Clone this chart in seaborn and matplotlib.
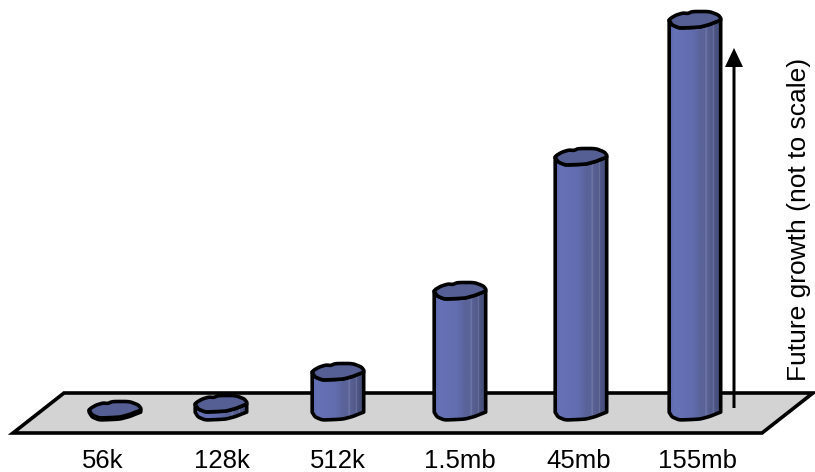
import numpy as np
import pandas as pd
import matplotlib
matplotlib.use("Agg")
import matplotlib.pyplot as plt
from matplotlib.colors import LinearSegmentedColormap
from matplotlib.patches import Polygon, FancyArrow
import seaborn as sns

# Line speeds and their (schematic) column heights
categories = ["56k", "128k", "512k", "1.5mb", "45mb", "155mb"]
column_centers = [115, 221, 338, 460, 581, 695]
label_centers = [103, 222, 338, 460, 579, 698]
heights = [2, 8, 40, 121, 255, 392]
axis_caption = "Future growth (not to scale)"

sns.set_theme(style="white")
plt.rcParams["font.family"] = ["Liberation Sans", "DejaVu Sans"]

fig = plt.figure(figsize=(8.15, 4.72), dpi=100)
ax = fig.add_axes([0, 0, 1, 1])

df = pd.DataFrame({"center": column_centers, "height": heights})
sns.barplot(data=df, x="center", y="height", native_scale=True, width=52 / 106,
            color="#5f6aa6", saturation=1, ax=ax, zorder=3)

ax.set_xlim(0, 815)
ax.set_ylim(-60, 412)
ax.set_axis_off()

LINE = 2.6

# Floor slab the columns stand on
ax.add_patch(Polygon([(13, -21), (64, 19), (813, 19), (762, -21)], closed=True,
                     facecolor="#d3d3d3", edgecolor="black", linewidth=LINE,
                     joinstyle="miter", zorder=1))

# Hand-drawn look of each column's cap: (fraction across, offset upward)
cap_top = np.array([(0, 0), (.04, 2), (.14, 5), (.27, 7), (.36, 6.5), (.45, 8.5),
                    (.78, 8.5), (.95, 5), (1, 1.5)], float)
cap_low = np.array([(1, 0), (.9, -2), (.78, -4.5), (.6, -7), (.45, -7.5), (.2, -8),
                    (.06, -5), (0, 0)], float)


def wobble(points, n=40):
    t = np.linspace(0, len(points) - 1, n)
    idx = np.arange(len(points))
    x = np.interp(t, idx, points[:, 0])
    y = np.interp(t, idx, points[:, 1])
    kernel = np.ones(3) / 3
    xs = np.convolve(np.pad(x, 1, mode="edge"), kernel, mode="valid")
    ys = np.convolve(np.pad(y, 1, mode="edge"), kernel, mode="valid")
    return np.column_stack([xs, ys])


top_edge = wobble(cap_top)
low_edge = wobble(cap_low)

body_cmap = LinearSegmentedColormap.from_list("body", [
    (0.00, "#5a66a8"), (0.10, "#6672b6"), (0.45, "#626db0"), (0.60, "#5a6398"),
    (0.70, "#5a6398"), (0.715, "#8188b4"), (0.73, "#5a6296"), (0.84, "#525a8a"),
    (0.855, "#767da8"), (0.87, "#4e5684"), (1.00, "#434a75")])
gradient = np.linspace(0, 1, 256).reshape(1, -1)

for patch in list(ax.patches):
    if patch.get_zorder() != 3:
        continue
    x0, w, h = patch.get_x(), patch.get_width(), patch.get_height()

    low_pts = np.column_stack([x0 + low_edge[:, 0] * w, low_edge[:, 1] + h])
    base_pts = np.column_stack([x0 + low_edge[:, 0] * w, low_edge[:, 1]])
    body = np.vstack([low_pts, base_pts[::-1]])
    outline = Polygon(body, closed=True, facecolor="none", edgecolor="black",
                      linewidth=LINE, joinstyle="round", zorder=4)
    ax.add_patch(outline)
    patch.set_clip_path(outline)
    patch.set_linewidth(0)

    fill = ax.imshow(gradient, cmap=body_cmap, aspect="auto", zorder=3.5,
                     extent=(x0, x0 + w, -12, h + 12), interpolation="bilinear")
    fill.set_clip_path(outline)

    cap = np.vstack([np.column_stack([x0 + top_edge[:, 0] * w, top_edge[:, 1] + h]), low_pts])
    ax.add_patch(Polygon(cap, closed=True, facecolor="#565f94", edgecolor="black",
                         linewidth=LINE, joinstyle="round", zorder=5))

ax.set_xlim(0, 815)
ax.set_ylim(-60, 412)

# Growth arrow beside the tallest column
ax.add_patch(FancyArrow(734, 4, 0, 360, width=3, head_width=18, head_length=19,
                        length_includes_head=True, facecolor="black", edgecolor="none",
                        zorder=6))

for pos, label in zip(label_centers, categories):
    ax.text(pos, -49, label, ha="center", va="center", fontsize=18.5, color="black")

ax.text(799, 193, axis_caption, rotation=90, ha="center", va="center",
        fontsize=19, color="black")

fig.savefig("out.png", dpi=100)
